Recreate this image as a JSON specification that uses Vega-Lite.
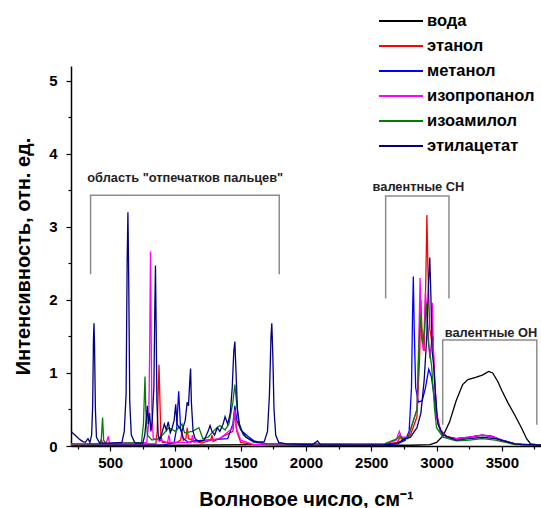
{
  "$schema": "https://vega.github.io/schema/vega-lite/v6.json",
  "autosize": "none",
  "width": 470,
  "height": 380,
  "padding": {"left": 71, "top": 66, "right": 0, "bottom": 62},
  "background": "white",
  "config": {
    "view": {"stroke": null},
    "font": "Liberation Sans"
  },
  "resolve": {"axis": {"x": "independent", "y": "independent"}},
  "datasets": {
    "spectra": [
      {"s":"вода","x":200,"y":0.01},{"s":"вода","x":1000,"y":0.01},{"s":"вода","x":1640,"y":0.02},{"s":"вода","x":2000,"y":0.01},{"s":"вода","x":2800,"y":0.01},{"s":"вода","x":2950,"y":0.02},{"s":"вода","x":3000,"y":0.05},{"s":"вода","x":3050,"y":0.14},{"s":"вода","x":3100,"y":0.33},{"s":"вода","x":3150,"y":0.62},{"s":"вода","x":3200,"y":0.84},{"s":"вода","x":3240,"y":0.91},{"s":"вода","x":3300,"y":0.94},{"s":"вода","x":3350,"y":0.97},{"s":"вода","x":3400,"y":1.02},{"s":"вода","x":3430,"y":1.0},{"s":"вода","x":3470,"y":0.88},{"s":"вода","x":3500,"y":0.76},{"s":"вода","x":3550,"y":0.58},{"s":"вода","x":3600,"y":0.42},{"s":"вода","x":3650,"y":0.25},{"s":"вода","x":3690,"y":0.1},{"s":"вода","x":3720,"y":0.03},{"s":"вода","x":3800,"y":0.01},

      {"s":"этанол","x":200,"y":0.03},{"s":"этанол","x":300,"y":0.02},{"s":"этанол","x":420,"y":0.03},{"s":"этанол","x":433,"y":0.08},{"s":"этанол","x":445,"y":0.03},{"s":"этанол","x":850,"y":0.03},{"s":"этанол","x":860,"y":0.2},{"s":"этанол","x":868,"y":0.75},{"s":"этанол","x":874,"y":1.11},{"s":"этанол","x":880,"y":0.7},{"s":"этанол","x":888,"y":0.15},{"s":"этанол","x":900,"y":0.05},{"s":"этанол","x":1000,"y":0.04},{"s":"этанол","x":1040,"y":0.08},{"s":"этанол","x":1050,"y":0.2},{"s":"этанол","x":1060,"y":0.08},{"s":"этанол","x":1080,"y":0.1},{"s":"этанол","x":1090,"y":0.25},{"s":"этанол","x":1100,"y":0.1},{"s":"этанол","x":1200,"y":0.04},{"s":"этанол","x":1270,"y":0.08},{"s":"этанол","x":1280,"y":0.15},{"s":"этанол","x":1290,"y":0.06},{"s":"этанол","x":1440,"y":0.2},{"s":"этанол","x":1455,"y":0.45},{"s":"этанол","x":1470,"y":0.2},{"s":"этанол","x":1500,"y":0.05},{"s":"этанол","x":1600,"y":0.02},{"s":"этанол","x":2600,"y":0.02},{"s":"этанол","x":2700,"y":0.05},{"s":"этанол","x":2720,"y":0.12},{"s":"этанол","x":2740,"y":0.08},{"s":"этанол","x":2800,"y":0.15},{"s":"этанол","x":2850,"y":0.4},{"s":"этанол","x":2870,"y":1.2},{"s":"этанол","x":2880,"y":2.0},{"s":"этанол","x":2890,"y":1.5},{"s":"этанол","x":2905,"y":1.3},{"s":"этанол","x":2918,"y":2.3},{"s":"этанол","x":2926,"y":3.16},{"s":"этанол","x":2934,"y":2.4},{"s":"этанол","x":2948,"y":1.6},{"s":"этанол","x":2962,"y":1.45},{"s":"этанол","x":2972,"y":1.5},{"s":"этанол","x":2985,"y":0.9},{"s":"этанол","x":3000,"y":0.45},{"s":"этанол","x":3030,"y":0.22},{"s":"этанол","x":3080,"y":0.13},{"s":"этанол","x":3150,"y":0.1},{"s":"этанол","x":3250,"y":0.12},{"s":"этанол","x":3350,"y":0.15},{"s":"этанол","x":3420,"y":0.14},{"s":"этанол","x":3500,"y":0.08},{"s":"этанол","x":3600,"y":0.03},{"s":"этанол","x":3700,"y":0.01},{"s":"этанол","x":3800,"y":0.01},

      {"s":"метанол","x":200,"y":0.01},{"s":"метанол","x":900,"y":0.01},{"s":"метанол","x":990,"y":0.05},{"s":"метанол","x":1010,"y":0.25},{"s":"метанол","x":1020,"y":0.6},{"s":"метанол","x":1025,"y":0.75},{"s":"метанол","x":1032,"y":0.5},{"s":"метанол","x":1040,"y":0.22},{"s":"метанол","x":1060,"y":0.1},{"s":"метанол","x":1100,"y":0.05},{"s":"метанол","x":1150,"y":0.07},{"s":"метанол","x":1400,"y":0.1},{"s":"метанол","x":1440,"y":0.3},{"s":"метанол","x":1455,"y":0.55},{"s":"метанол","x":1470,"y":0.35},{"s":"метанол","x":1500,"y":0.22},{"s":"метанол","x":1550,"y":0.14},{"s":"метанол","x":1600,"y":0.07},{"s":"метанол","x":1700,"y":0.03},{"s":"метанол","x":2600,"y":0.02},{"s":"метанол","x":2700,"y":0.03},{"s":"метанол","x":2760,"y":0.08},{"s":"метанол","x":2790,"y":0.2},{"s":"метанол","x":2808,"y":0.8},{"s":"метанол","x":2816,"y":1.8},{"s":"метанол","x":2822,"y":2.32},{"s":"метанол","x":2829,"y":1.6},{"s":"метанол","x":2840,"y":0.8},{"s":"метанол","x":2860,"y":0.6},{"s":"метанол","x":2890,"y":0.62},{"s":"метанол","x":2915,"y":0.8},{"s":"метанол","x":2940,"y":1.05},{"s":"метанол","x":2960,"y":0.95},{"s":"метанол","x":2980,"y":0.7},{"s":"метанол","x":3000,"y":0.4},{"s":"метанол","x":3030,"y":0.2},{"s":"метанол","x":3080,"y":0.12},{"s":"метанол","x":3150,"y":0.1},{"s":"метанол","x":3250,"y":0.12},{"s":"метанол","x":3350,"y":0.15},{"s":"метанол","x":3420,"y":0.13},{"s":"метанол","x":3500,"y":0.08},{"s":"метанол","x":3600,"y":0.03},{"s":"метанол","x":3700,"y":0.01},{"s":"метанол","x":3800,"y":0.01},

      {"s":"изопропанол","x":200,"y":0.02},{"s":"изопропанол","x":470,"y":0.04},{"s":"изопропанол","x":485,"y":0.13},{"s":"изопропанол","x":495,"y":0.04},{"s":"изопропанол","x":780,"y":0.05},{"s":"изопропанол","x":795,"y":0.3},{"s":"изопропанол","x":802,"y":1.2},{"s":"изопропанол","x":806,"y":2.1},{"s":"изопропанол","x":809,"y":2.66},{"s":"изопропанол","x":813,"y":1.8},{"s":"изопропанол","x":819,"y":0.5},{"s":"изопропанол","x":830,"y":0.1},{"s":"изопропанол","x":940,"y":0.05},{"s":"изопропанол","x":950,"y":0.15},{"s":"изопропанол","x":960,"y":0.05},{"s":"изопропанол","x":1120,"y":0.05},{"s":"изопропанол","x":1130,"y":0.15},{"s":"изопропанол","x":1140,"y":0.05},{"s":"изопропанол","x":1340,"y":0.1},{"s":"изопропанол","x":1440,"y":0.25},{"s":"изопропанол","x":1455,"y":0.5},{"s":"изопропанол","x":1465,"y":0.25},{"s":"изопропанол","x":1500,"y":0.08},{"s":"изопропанол","x":1600,"y":0.02},{"s":"изопропанол","x":2600,"y":0.02},{"s":"изопропанол","x":2690,"y":0.08},{"s":"изопропанол","x":2715,"y":0.2},{"s":"изопропанол","x":2730,"y":0.12},{"s":"изопропанол","x":2780,"y":0.12},{"s":"изопропанол","x":2850,"y":0.5},{"s":"изопропанол","x":2866,"y":1.6},{"s":"изопропанол","x":2874,"y":2.3},{"s":"изопропанол","x":2884,"y":1.5},{"s":"изопропанол","x":2900,"y":1.3},{"s":"изопропанол","x":2915,"y":2.1},{"s":"изопропанол","x":2928,"y":1.8},{"s":"изопропанол","x":2948,"y":1.2},{"s":"изопропанол","x":2960,"y":1.4},{"s":"изопропанол","x":2968,"y":1.96},{"s":"изопропанол","x":2976,"y":1.3},{"s":"изопропанол","x":3000,"y":0.4},{"s":"изопропанол","x":3030,"y":0.2},{"s":"изопропанол","x":3080,"y":0.12},{"s":"изопропанол","x":3150,"y":0.1},{"s":"изопропанол","x":3250,"y":0.12},{"s":"изопропанол","x":3350,"y":0.15},{"s":"изопропанол","x":3420,"y":0.13},{"s":"изопропанол","x":3500,"y":0.08},{"s":"изопропанол","x":3600,"y":0.03},{"s":"изопропанол","x":3700,"y":0.01},{"s":"изопропанол","x":3800,"y":0.01},

      {"s":"изоамилол","x":200,"y":0.03},{"s":"изоамилол","x":420,"y":0.03},{"s":"изоамилол","x":432,"y":0.1},{"s":"изоамилол","x":442,"y":0.39},{"s":"изоамилол","x":450,"y":0.08},{"s":"изоамилол","x":470,"y":0.03},{"s":"изоамилол","x":740,"y":0.05},{"s":"изоамилол","x":755,"y":0.3},{"s":"изоамилол","x":762,"y":0.7},{"s":"изоамилол","x":767,"y":0.95},{"s":"изоамилол","x":773,"y":0.5},{"s":"изоамилол","x":785,"y":0.15},{"s":"изоамилол","x":820,"y":0.08},{"s":"изоамилол","x":870,"y":0.1},{"s":"изоамилол","x":900,"y":0.15},{"s":"изоамилол","x":950,"y":0.25},{"s":"изоамилол","x":1000,"y":0.2},{"s":"изоамилол","x":1050,"y":0.3},{"s":"изоамилол","x":1070,"y":0.18},{"s":"изоамилол","x":1130,"y":0.2},{"s":"изоамилол","x":1180,"y":0.25},{"s":"изоамилол","x":1210,"y":0.1},{"s":"изоамилол","x":1250,"y":0.12},{"s":"изоамилол","x":1300,"y":0.22},{"s":"изоамилол","x":1340,"y":0.28},{"s":"изоамилол","x":1380,"y":0.22},{"s":"изоамилол","x":1410,"y":0.3},{"s":"изоамилол","x":1440,"y":0.6},{"s":"изоамилол","x":1455,"y":0.84},{"s":"изоамилол","x":1468,"y":0.6},{"s":"изоамилол","x":1485,"y":0.3},{"s":"изоамилол","x":1520,"y":0.15},{"s":"изоамилол","x":1600,"y":0.05},{"s":"изоамилол","x":1700,"y":0.03},{"s":"изоамилол","x":2600,"y":0.03},{"s":"изоамилол","x":2700,"y":0.1},{"s":"изоамилол","x":2720,"y":0.15},{"s":"изоамилол","x":2740,"y":0.1},{"s":"изоамилол","x":2780,"y":0.1},{"s":"изоамилол","x":2850,"y":0.5},{"s":"изоамилол","x":2868,"y":1.5},{"s":"изоамилол","x":2878,"y":1.8},{"s":"изоамилол","x":2893,"y":1.4},{"s":"изоамилол","x":2908,"y":1.6},{"s":"изоамилол","x":2922,"y":1.95},{"s":"изоамилол","x":2938,"y":1.4},{"s":"изоамилол","x":2962,"y":1.1},{"s":"изоамилол","x":2985,"y":0.5},{"s":"изоамилол","x":3000,"y":0.25},{"s":"изоамилол","x":3050,"y":0.12},{"s":"изоамилол","x":3150,"y":0.07},{"s":"изоамилол","x":3250,"y":0.08},{"s":"изоамилол","x":3350,"y":0.1},{"s":"изоамилол","x":3450,"y":0.08},{"s":"изоамилол","x":3600,"y":0.02},{"s":"изоамилол","x":3800,"y":0.01},

      {"s":"этилацетат","x":200,"y":0.2},{"s":"этилацетат","x":230,"y":0.15},{"s":"этилацетат","x":260,"y":0.1},{"s":"этилацетат","x":290,"y":0.06},{"s":"этилацетат","x":310,"y":0.05},{"s":"этилацетат","x":330,"y":0.1},{"s":"этилацетат","x":345,"y":0.05},{"s":"этилацетат","x":358,"y":0.15},{"s":"этилацетат","x":366,"y":0.55},{"s":"этилацетат","x":372,"y":1.45},{"s":"этилацетат","x":376,"y":1.68},{"s":"этилацетат","x":380,"y":1.4},{"s":"этилацетат","x":387,"y":0.5},{"s":"этилацетат","x":395,"y":0.12},{"s":"этилацетат","x":420,"y":0.04},{"s":"этилацетат","x":500,"y":0.04},{"s":"этилацетат","x":590,"y":0.05},{"s":"этилацетат","x":608,"y":0.2},{"s":"этилацетат","x":622,"y":0.7},{"s":"этилацетат","x":630,"y":2.5},{"s":"этилацетат","x":636,"y":3.2},{"s":"этилацетат","x":642,"y":2.3},{"s":"этилацетат","x":650,"y":0.6},{"s":"этилацетат","x":662,"y":0.15},{"s":"этилацетат","x":690,"y":0.04},{"s":"этилацетат","x":750,"y":0.04},{"s":"этилацетат","x":765,"y":0.15},{"s":"этилацетат","x":778,"y":0.4},{"s":"этилацетат","x":785,"y":0.55},{"s":"этилацетат","x":792,"y":0.3},{"s":"этилацетат","x":802,"y":0.45},{"s":"этилацетат","x":812,"y":0.2},{"s":"этилацетат","x":822,"y":0.35},{"s":"этилацетат","x":835,"y":0.8},{"s":"этилацетат","x":842,"y":1.9},{"s":"этилацетат","x":847,"y":2.47},{"s":"этилацетат","x":852,"y":1.7},{"s":"этилацетат","x":858,"y":0.6},{"s":"этилацетат","x":868,"y":0.15},{"s":"этилацетат","x":880,"y":0.08},{"s":"этилацетат","x":900,"y":0.2},{"s":"этилацетат","x":915,"y":0.3},{"s":"этилацетат","x":930,"y":0.22},{"s":"этилацетат","x":945,"y":0.33},{"s":"этилацетат","x":960,"y":0.18},{"s":"этилацетат","x":975,"y":0.25},{"s":"этилацетат","x":990,"y":0.35},{"s":"этилацетат","x":1002,"y":0.57},{"s":"этилацетат","x":1012,"y":0.3},{"s":"этилацетат","x":1030,"y":0.25},{"s":"этилацетат","x":1050,"y":0.2},{"s":"этилацетат","x":1075,"y":0.35},{"s":"этилацетат","x":1090,"y":0.6},{"s":"этилацетат","x":1100,"y":0.55},{"s":"этилацетат","x":1110,"y":0.9},{"s":"этилацетат","x":1116,"y":1.06},{"s":"этилацетат","x":1122,"y":0.6},{"s":"этилацетат","x":1135,"y":0.2},{"s":"этилацетат","x":1150,"y":0.1},{"s":"этилацетат","x":1180,"y":0.06},{"s":"этилацетат","x":1220,"y":0.08},{"s":"этилацетат","x":1250,"y":0.2},{"s":"этилацетат","x":1265,"y":0.28},{"s":"этилацетат","x":1280,"y":0.2},{"s":"этилацетат","x":1300,"y":0.15},{"s":"этилацетат","x":1320,"y":0.25},{"s":"этилацетат","x":1340,"y":0.2},{"s":"этилацетат","x":1365,"y":0.3},{"s":"этилацетат","x":1380,"y":0.4},{"s":"этилацетат","x":1400,"y":0.3},{"s":"этилацетат","x":1420,"y":0.45},{"s":"этилацетат","x":1435,"y":0.8},{"s":"этилацетат","x":1447,"y":1.3},{"s":"этилацетат","x":1455,"y":1.43},{"s":"этилацетат","x":1462,"y":1.1},{"s":"этилацетат","x":1475,"y":0.5},{"s":"этилацетат","x":1490,"y":0.3},{"s":"этилацетат","x":1510,"y":0.2},{"s":"этилацетат","x":1540,"y":0.12},{"s":"этилацетат","x":1580,"y":0.08},{"s":"этилацетат","x":1620,"y":0.05},{"s":"этилацетат","x":1680,"y":0.06},{"s":"этилацетат","x":1705,"y":0.2},{"s":"этилацетат","x":1720,"y":0.7},{"s":"этилацетат","x":1732,"y":1.5},{"s":"этилацетат","x":1738,"y":1.68},{"s":"этилацетат","x":1745,"y":1.3},{"s":"этилацетат","x":1755,"y":0.5},{"s":"этилацетат","x":1768,"y":0.15},{"s":"этилацетат","x":1790,"y":0.05},{"s":"этилацетат","x":1850,"y":0.03},{"s":"этилацетат","x":2050,"y":0.02},{"s":"этилацетат","x":2088,"y":0.07},{"s":"этилацетат","x":2110,"y":0.02},{"s":"этилацетат","x":2400,"y":0.01},{"s":"этилацетат","x":2600,"y":0.02},{"s":"этилацетат","x":2700,"y":0.04},{"s":"этилацетат","x":2760,"y":0.1},{"s":"этилацетат","x":2800,"y":0.12},{"s":"этилацетат","x":2850,"y":0.25},{"s":"этилацетат","x":2880,"y":0.45},{"s":"этилацетат","x":2905,"y":0.9},{"s":"этилацетат","x":2925,"y":1.5},{"s":"этилацетат","x":2938,"y":2.2},{"s":"этилацетат","x":2948,"y":2.58},{"s":"этилацетат","x":2956,"y":2.1},{"s":"этилацетат","x":2966,"y":1.3},{"s":"этилацетат","x":2978,"y":1.1},{"s":"этилацетат","x":2992,"y":0.7},{"s":"этилацетат","x":3010,"y":0.3},{"s":"этилацетат","x":3050,"y":0.15},{"s":"этилацетат","x":3150,"y":0.08},{"s":"этилацетат","x":3250,"y":0.1},{"s":"этилацетат","x":3350,"y":0.12},{"s":"этилацетат","x":3450,"y":0.1},{"s":"этилацетат","x":3600,"y":0.03},{"s":"этилацетат","x":3800,"y":0.01}
    ],
    "brackets": [
      {"b":"fp","o":1,"x":350,"y":2.35},{"b":"fp","o":2,"x":350,"y":3.43},{"b":"fp","o":3,"x":1795,"y":3.43},{"b":"fp","o":4,"x":1795,"y":2.35},
      {"b":"ch","o":1,"x":2610,"y":2.02},{"b":"ch","o":2,"x":2610,"y":3.42},{"b":"ch","o":3,"x":3095,"y":3.42},{"b":"ch","o":4,"x":3095,"y":2.02},
      {"b":"oh","o":1,"x":3047,"y":0.29},{"b":"oh","o":2,"x":3047,"y":1.45},{"b":"oh","o":3,"x":3768,"y":1.45},{"b":"oh","o":4,"x":3768,"y":0.29}
    ],
    "labels": [
      {"t":"область \"отпечатков пальцев\"","x":1075,"y":3.67},
      {"t":"валентные CH","x":2861,"y":3.55},
      {"t":"валентные OH","x":3417,"y":1.55}
    ]
  },
  "layer": [
    {
      "data": {"name": "brackets"},
      "mark": {"type": "line", "color": "#8c8c8c", "strokeWidth": 1.5},
      "encoding": {
        "x": {
          "field": "x", "type": "quantitative",
          "scale": {"domain": [200, 3800], "nice": false, "zero": false},
          "axis": {
            "orient": "bottom",
            "values": [250,750,1250,1750,2250,2750,3250,3750],
            "labels": false, "domain": false, "grid": false, "title": null,
            "tickColor": "#000", "tickWidth": 1.2, "tickSize": 3
          }
        },
        "y": {
          "field": "y", "type": "quantitative",
          "scale": {"domain": [0, 5.2], "nice": false},
          "axis": {
            "orient": "left",
            "values": [0.5,1.5,2.5,3.5,4.5],
            "labels": false, "domain": false, "grid": false, "title": null,
            "tickColor": "#000", "tickWidth": 1.2, "tickSize": 3
          }
        },
        "detail": {"field": "b"},
        "order": {"field": "o"}
      }
    },
    {
      "data": {"name": "labels"},
      "mark": {"type": "text", "fontSize": 12.8, "fontWeight": "bold", "color": "#222", "align": "center", "baseline": "middle", "font": "Liberation Sans"},
      "encoding": {
        "x": {"field": "x", "type": "quantitative", "axis": null},
        "y": {"field": "y", "type": "quantitative", "axis": null},
        "text": {"field": "t"}
      }
    },
    {
      "data": {"name": "spectra"},
      "mark": {"type": "line", "strokeWidth": 1.3, "interpolate": "linear"},
      "encoding": {
        "x": {
          "field": "x", "type": "quantitative",
          "axis": {
            "orient": "bottom",
            "values": [500,1000,1500,2000,2500,3000,3500],
            "format": "d",
            "grid": false,
            "domainColor": "#000", "domainWidth": 1.5,
            "tickColor": "#000", "tickWidth": 1.2, "tickSize": 5,
            "labelFont": "Liberation Sans", "labelFontSize": 15, "labelFontWeight": "bold", "labelColor": "#000",
            "labelPadding": 4,
            "title": "Волновое число, см⁻¹",
            "titleFont": "Liberation Sans", "titleFontSize": 20, "titleFontWeight": "bold", "titleColor": "#000",
            "titlePadding": 19
          }
        },
        "y": {
          "field": "y", "type": "quantitative",
          "axis": {
            "orient": "left",
            "values": [0,1,2,3,4,5],
            "format": "d",
            "grid": false,
            "domainColor": "#000", "domainWidth": 1.5,
            "tickColor": "#000", "tickWidth": 1.2, "tickSize": 5,
            "labelFont": "Liberation Sans", "labelFontSize": 15, "labelFontWeight": "bold", "labelColor": "#000",
            "labelPadding": 9,
            "title": "Интенсивность, отн. ед.",
            "titleFont": "Liberation Sans", "titleFontSize": 20, "titleFontWeight": "bold", "titleColor": "#000",
            "titlePadding": 15
          }
        },
        "color": {
          "field": "s", "type": "nominal",
          "scale": {
            "domain": ["вода","этанол","метанол","изопропанол","изоамилол","этилацетат"],
            "range": ["#000000","#ff0000","#0000ff","#ff00ff","#008000","#000080"]
          },
          "legend": {
            "title": null,
            "orient": "none",
            "legendX": 307,
            "legendY": -52,
            "symbolType": "stroke",
            "symbolSize": 1936,
            "symbolStrokeWidth": 1.8,
            "clipHeight": 14,
            "labelFont": "Liberation Sans", "labelFontSize": 16.5, "labelFontWeight": "bold", "labelColor": "#000",
            "labelOffset": 3,
            "rowPadding": 8,
            "padding": 0
          }
        }
      }
    }
  ]
}
